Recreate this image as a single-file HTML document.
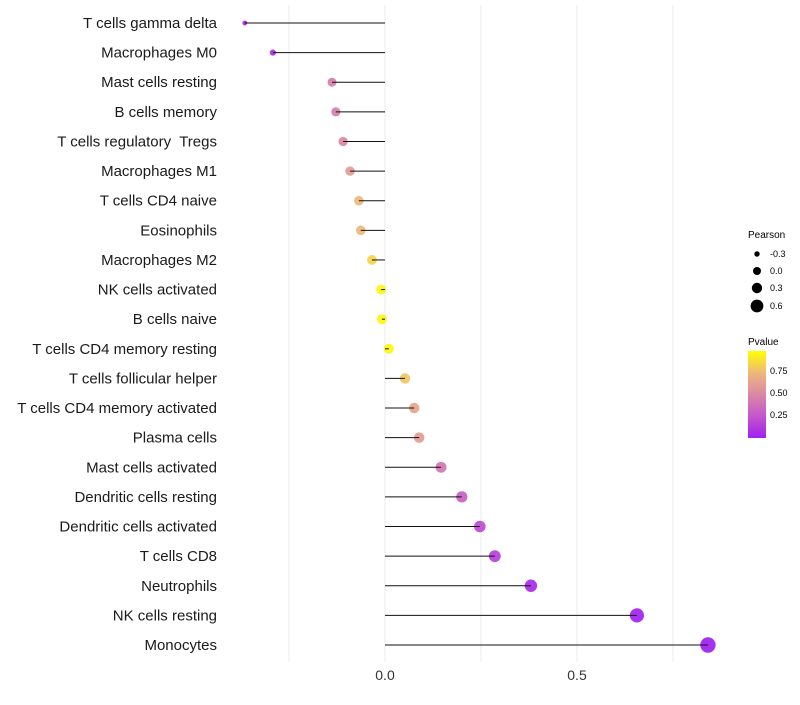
<!DOCTYPE html>
<html><head><meta charset="utf-8"><style>
body{margin:0;background:#fff;font-family:"Liberation Sans",sans-serif}
text{white-space:pre}
</style></head><body>
<svg id="chart" width="800" height="700" xmlns="http://www.w3.org/2000/svg">
<defs><linearGradient id="pg" x1="0" y1="1" x2="0" y2="0">
<stop offset="0" stop-color="#A020F0"/><stop offset="0.25" stop-color="#C456CC"/><stop offset="0.5" stop-color="#DA88A6"/><stop offset="0.75" stop-color="#EEB87A"/><stop offset="1" stop-color="#FFFF00"/></linearGradient></defs>
<g id="grid"></g><g id="points"></g><g id="stems"></g><g id="labels"></g>
<g font-size="9" fill="#000">
<text x="748" y="238" font-size="10">Pearson</text>
<circle cx="757" cy="254" r="2.7"/><text x="770" y="257">-0.3</text>
<circle cx="757" cy="271" r="4"/><text x="770" y="274">0.0</text>
<circle cx="757" cy="288" r="5.2"/><text x="770" y="291">0.3</text>
<circle cx="757" cy="306" r="6.4"/><text x="770" y="309">0.6</text>
</g>
<g font-size="9" fill="#000">
<text x="748" y="345" font-size="10">Pvalue</text>
<rect x="748" y="351" width="18" height="87" fill="url(#pg)"/>
<text x="770" y="374">0.75</text><text x="770" y="396">0.50</text><text x="770" y="418">0.25</text>
</g>
</svg>
<script>
const categories=["T cells gamma delta","Macrophages M0","Mast cells resting","B cells memory","T cells regulatory  Tregs","Macrophages M1","T cells CD4 naive","Eosinophils","Macrophages M2","NK cells activated","B cells naive","T cells CD4 memory resting","T cells follicular helper","T cells CD4 memory activated","Plasma cells","Mast cells activated","Dendritic cells resting","Dendritic cells activated","T cells CD8","Neutrophils","NK cells resting","Monocytes"];
const pearson=[-0.365,-0.292,-0.138,-0.128,-0.109,-0.091,-0.068,-0.063,-0.034,-0.010,-0.008,0.010,0.052,0.076,0.089,0.146,0.200,0.247,0.286,0.380,0.656,0.841];
const pvalue=[0.02,0.08,0.45,0.45,0.5,0.6,0.75,0.75,0.85,0.97,0.97,0.97,0.8,0.65,0.6,0.4,0.3,0.2,0.15,0.05,0.01,0.001];
const xTicks=[0,0.5];
const xTickLabels=["0.0","0.5"];
const NS="http://www.w3.org/2000/svg";
const xs=v=>385+v*384;
const ys=i=>23+i*(622/21);
const rs=v=>5.0+3.2*v-Math.max(0,-0.13-v)*6;
const stops=[[0,[160,32,240]],[0.25,[196,86,204]],[0.5,[218,136,166]],[0.75,[238,184,122]],[1,[255,255,0]]];
function col(p){for(let k=1;k<stops.length;k++){if(p<=stops[k][0]){const a=stops[k-1],b=stops[k],t=(p-a[0])/(b[0]-a[0]);return 'rgb('+a[1].map((c,j)=>Math.round(c+(b[1][j]-c)*t)).join(',')+')';}}return 'rgb(255,255,0)';}
function mk(t,at,par){const e=document.createElementNS(NS,t);for(const k in at)e.setAttribute(k,at[k]);par.appendChild(e);return e;}
const grid=document.getElementById('grid'),stems=document.getElementById('stems'),points=document.getElementById('points'),labels=document.getElementById('labels');
[-0.25,0,0.25,0.5,0.75].forEach(v=>{const l=mk('line',{x1:xs(v),x2:xs(v),y1:5,y2:662,stroke:'#ebebeb','stroke-width':1},grid);

});
xTicks.forEach((v,i)=>{const t=mk('text',{x:xs(v),y:680,'text-anchor':'middle','font-size':14,fill:'#333'},labels);t.textContent=xTickLabels[i];

});
categories.forEach((c,i)=>{
const y=ys(i);
const t=mk('text',{x:217,y:y+5,'text-anchor':'end','font-size':15,fill:'#1a1a1a'},labels);t.textContent=c;


const l=mk('line',{x1:xs(0),x2:xs(pearson[i]),y1:y,y2:y,stroke:'#111','stroke-width':1},stems);


const p=mk('circle',{cx:xs(pearson[i]),cy:y,r:rs(pearson[i]),fill:col(pvalue[i]),'fill-opacity':0.92},points);


});
</script>
</body></html>
